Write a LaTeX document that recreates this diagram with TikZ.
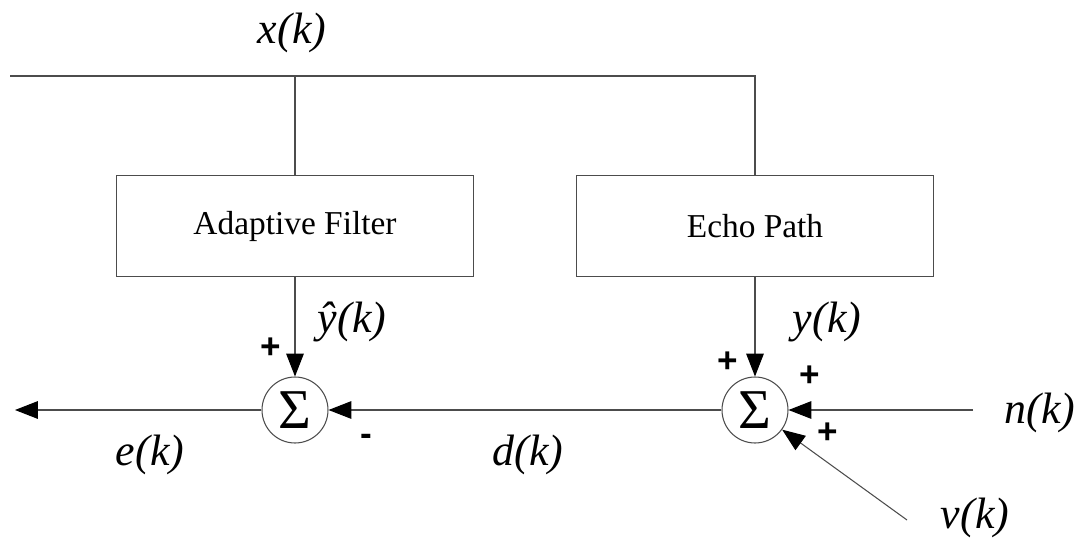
\documentclass[tikz,border=0pt]{standalone}
\usepackage{fontspec}
\setmainfont{Liberation Serif}
\setsansfont{Liberation Sans}
\usetikzlibrary{positioning,arrows.meta}

\begin{document}
\begin{tikzpicture}[x=0.02cm,y=-0.02cm,
line/.style={draw=black!70,line width=.6pt},
block/.style={line,rectangle,minimum width=7.16cm,minimum height=2.02cm,
    font=\fontsize{19}{22}\selectfont},
summer/.style={line,circle,minimum size=1.32cm,inner sep=0pt,
    font=\fontsize{32}{34}\selectfont},
sig/.style={font=\fontsize{25}{30}\selectfont\itshape},
sgn/.style={font=\fontsize{20}{22}\selectfont\sffamily\bfseries},
>={Triangle[length=13pt,width=10pt,color=black]}]
\useasboundingbox (0,0) rectangle (1083,548);

% blocks and summing points
\node (adapt) [block] at (295,226) {Adaptive Filter};
\node (echo) [block] at (755,226) {Echo Path};
\node (sumA) [summer] at (295,410) {Σ};
\node (sumB) [summer] at (755,410) {Σ};

% free ends
\coordinate (xin) at (10,76);
\coordinate (eout) at (15,410);
\coordinate (nin) at (973,410);
\coordinate (vin) at (907,520);

% connectors
\draw [line] (xin) -| (echo.north);
\draw [line] (adapt.north) -- (adapt.north |- xin);
\draw [line,->] (adapt.south) -- (sumA.north);
\draw [line,->] (echo.south) -- (sumB.north);
\draw [line,->] (sumA.west) -- (eout);
\draw [line,->] (sumB.west) -- (sumA.east);
\draw [line,->] (nin) -- (sumB.east);
\draw [line,->] (vin) -- (sumB);

% signals
\node (xk) [sig] at (292,33) {x(k)};
\node (yhk) [sig] at (352,322) {ŷ(k)};
\node (yk) [sig] at (827,322) {y(k)};
\node (ek) [sig] at (150,455) {e(k)};
\node (dk) [sig] at (528,455) {d(k)};
\node (nk) [sig] at (1040,413) {n(k)};
\node (vk) [sig] at (975,518) {v(k)};

% signs
\node (pA) [sgn] at (271,348) {+};
\node (mA) [sgn] at (366,440) {-};
\node (pB1) [sgn] at (728,362) {+};
\node (pB2) [sgn] at (810,376) {+};
\node (pB3) [sgn] at (828,433) {+};
\end{tikzpicture}
\end{document}
